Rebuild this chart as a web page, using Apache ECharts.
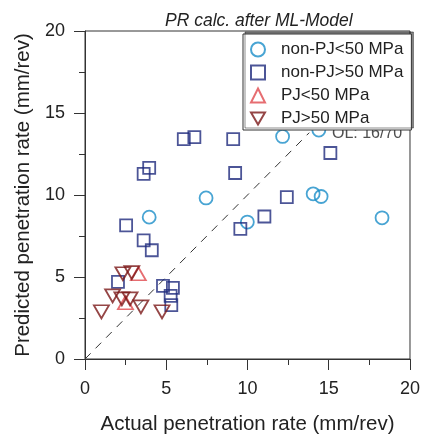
<!DOCTYPE html>
<html>
<head>
<meta charset="utf-8">
<script src="https://cdn.jsdelivr.net/npm/echarts@6/dist/echarts.min.js"></script>
<style>
  html, body { margin: 0; padding: 0; background: #fff; }
  #chart { width: 423px; height: 441px; }
</style>
</head>
<body>
<div id="chart"></div>
<script>
// actual vs predicted penetration rate (mm/rev)
var nonPjLow = [
    [7.45, 9.82], [3.95, 8.65], [9.99, 8.35], [12.16, 13.57],
    [14.39, 13.96], [14.04, 10.07], [14.53, 9.91], [18.28, 8.61]
];
var nonPjHigh = [
    [6.08, 13.41], [6.73, 13.53], [9.12, 13.41], [3.61, 11.29], [3.95, 11.65],
    [9.24, 11.34], [2.53, 8.15], [3.61, 7.23], [4.11, 6.63], [9.56, 7.94],
    [15.1, 12.56], [12.42, 9.87], [11.04, 8.69], [2.03, 4.70], [4.80, 4.46],
    [5.41, 4.34], [5.27, 3.85], [5.31, 3.28]
];
var pjLow = [[3.28, 5.2], [2.49, 3.43]];
var pjHigh = [
    [2.33, 5.2], [2.88, 5.27], [1.70, 3.85], [2.27, 3.67],
    [2.77, 3.67], [3.44, 3.18], [1.01, 2.88], [4.74, 2.88]
];
var seriesNames = ['non-PJ<50 MPa', 'non-PJ>50 MPa', 'PJ<50 MPa', 'PJ>50 MPa'];
var oneToOne = [[0, 0], [13.8, 13.8]];
var olText = 'OL: 16/70';
var olAnchor = [15.2, 13.74];

var FONT = '"Liberation Sans", Arial, sans-serif';
var downTri = 'path://M0,0L2,0L1,1.73Z';

function hollow(color) {
    return { color: 'transparent', borderColor: color, borderWidth: 1.8 };
}

var chart = echarts.init(document.getElementById('chart'));

var option = {
    animation: false,
    backgroundColor: '#fff',
    textStyle: { fontFamily: FONT, color: '#222' },
    title: {
        text: 'PR calc. after ML-Model',
        left: 160,
        top: 7,
        textStyle: { fontFamily: FONT, fontSize: 17.5, fontStyle: 'italic', fontWeight: 'normal', color: '#222' }
    },
    grid: {
        left: 85, right: 9, top: 31, bottom: 82,
        show: true, borderColor: '#333', borderWidth: 1, backgroundColor: 'transparent'
    },
    legend: {
        data: seriesNames,
        orient: 'vertical',
        left: 243,
        top: 34,
        itemWidth: 14,
        itemHeight: 14,
        itemGap: 6,
        padding: [7, 8, 3, 7],
        borderColor: '#333',
        borderWidth: 1,
        backgroundColor: '#fff',
        shadowColor: 'rgba(0,0,0,0.45)',
        shadowOffsetX: 2,
        shadowOffsetY: -2,
        textStyle: { fontFamily: FONT, fontSize: 17, color: '#222', padding: [0, 0, 0, 11] }
    },
    xAxis: {
        type: 'value',
        min: 0, max: 20, interval: 5,
        name: 'Actual penetration rate (mm/rev)',
        nameLocation: 'middle',
        nameGap: 55,
        nameTextStyle: { fontFamily: FONT, fontSize: 20.5, color: '#222' },
        axisLine: { onZero: false, lineStyle: { color: '#333', width: 1 } },
        axisTick: { length: 11, lineStyle: { color: '#333' } },
        minorTick: { show: true, splitNumber: 2, length: 6, lineStyle: { color: '#333' } },
        axisLabel: { fontFamily: FONT, fontSize: 18, color: '#222', margin: 21 },
        splitLine: { show: false }
    },
    yAxis: {
        type: 'value',
        min: 0, max: 20, interval: 5,
        name: 'Predicted penetration rate (mm/rev)',
        nameLocation: 'middle',
        nameGap: 50,
        nameTextStyle: { fontFamily: FONT, fontSize: 20.5, color: '#222' },
        axisLine: { show: true, onZero: false, lineStyle: { color: '#333', width: 1 } },
        axisTick: { show: true, length: 11, lineStyle: { color: '#333' } },
        minorTick: { show: true, splitNumber: 2, length: 6, lineStyle: { color: '#333' } },
        axisLabel: { fontFamily: FONT, fontSize: 18, color: '#222', margin: 20 },
        splitLine: { show: false }
    },
    series: [
        {
            type: 'line',
            data: oneToOne,
            symbol: 'none',
            silent: true,
            lineStyle: { color: '#333', width: 1, type: [8, 7] },
            z: 1
        },
        {
            name: seriesNames[0],
            type: 'scatter',
            data: nonPjLow,
            symbol: 'circle',
            symbolSize: 13,
            itemStyle: hollow('#1a8dc8'),
            z: 3
        },
        {
            name: seriesNames[1],
            type: 'scatter',
            data: nonPjHigh,
            symbol: 'rect',
            symbolSize: 12,
            itemStyle: hollow('#1f2b7d'),
            z: 3
        },
        {
            name: seriesNames[2],
            type: 'scatter',
            data: pjLow,
            symbol: 'triangle',
            symbolSize: [15, 13],
            itemStyle: hollow('#e0484d'),
            z: 3
        },
        {
            name: seriesNames[3],
            type: 'scatter',
            data: pjHigh,
            symbol: downTri,
            symbolSize: [15, 13],
            itemStyle: hollow('#7a1818'),
            z: 3
        },
        {
            type: 'scatter',
            data: [olAnchor],
            symbolSize: 0,
            silent: true,
            label: {
                show: true,
                position: 'right',
                distance: 0,
                formatter: olText,
                fontFamily: FONT,
                fontSize: 16,
                color: '#222'
            }
        }
    ]
};

chart.setOption(option);
</script>
</body>
</html>
